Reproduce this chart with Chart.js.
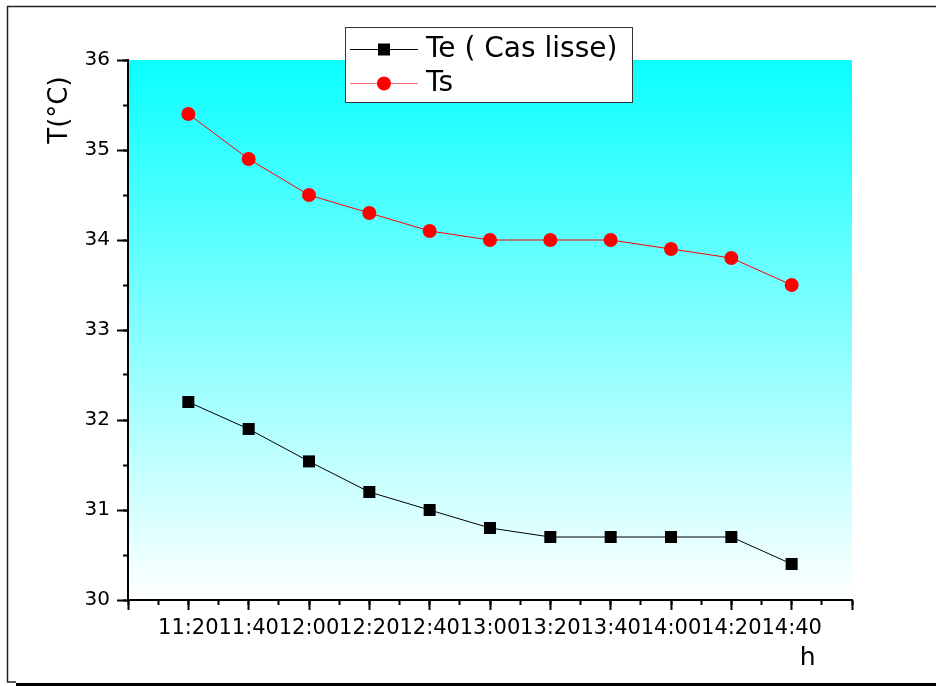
<!DOCTYPE html>
<html>
<head>
<meta charset="utf-8">
<title>T(°C) - Te / Ts</title>
<script src="https://cdn.jsdelivr.net/npm/chart.js@4.4.0/dist/chart.umd.min.js"></script>
<style>
  html, body { margin: 0; padding: 0; background: #fff; }
  #chart { display: block; }
</style>
</head>
<body>
<canvas id="chart" width="936" height="686"></canvas>
<script>
// Time of measurement (x categories)
const hours = ['11:20', '11:40', '12:00', '12:20', '12:40', '13:00', '13:20', '13:40', '14:00', '14:20', '14:40'];

// Temperatures
const te = [32.2, 31.9, 31.54, 31.2, 31.0, 30.8, 30.7, 30.7, 30.7, 30.7, 30.4];
const ts = [35.4, 34.9, 34.5, 34.3, 34.1, 34.0, 34.0, 34.0, 33.9, 33.8, 33.5];

const seriesNames = ['Te ( Cas lisse)', 'Ts'];
const yTitle = 'T(°C)';
const xTitle = 'h';

const FONT = '"DejaVu Sans", "Liberation Sans", Arial, sans-serif';

const toPoints = arr => arr.map((y, i) => ({ x: i + 1, y }));

// Frame, background and the cyan gradient of the plot area
const backdrop = {
    id: 'backdrop',
    beforeDraw(chart) {
        const { ctx, chartArea: a } = chart;
        ctx.save();
        ctx.fillStyle = '#fff';
        ctx.fillRect(0, 0, chart.width, chart.height);

        const g = ctx.createLinearGradient(0, a.top, 0, a.bottom);
        g.addColorStop(0, 'rgb(10,255,255)');
        g.addColorStop(1, 'rgb(255,255,255)');
        ctx.fillStyle = g;
        ctx.fillRect(a.left, a.top, a.right - a.left, a.bottom - a.top);

        // outer frame with a shadow at the bottom
        ctx.strokeStyle = '#222';
        ctx.lineWidth = 1.5;
        ctx.beginPath();
        ctx.moveTo(936, 6.5);
        ctx.lineTo(7.5, 6.5);
        ctx.lineTo(7.5, 682);
        ctx.lineTo(16, 682);
        ctx.stroke();
        ctx.fillStyle = '#000';
        ctx.fillRect(16, 683, 920, 3);
        ctx.restore();
    }
};

// Legend box and axis titles
const overlay = {
    id: 'overlay',
    afterDraw(chart) {
        const { ctx } = chart;
        ctx.save();

        // legend
        ctx.fillStyle = '#fff';
        ctx.fillRect(345, 27, 287, 75);
        ctx.strokeStyle = '#333';
        ctx.lineWidth = 1;
        ctx.strokeRect(345.5, 27.5, 287, 75);

        const rows = [49, 83];
        chart.data.datasets.forEach((ds, i) => {
            const y = rows[i];
            ctx.strokeStyle = ds.legendLine;
            ctx.lineWidth = 1;
            ctx.beginPath();
            ctx.moveTo(350, y + 0.5);
            ctx.lineTo(418, y + 0.5);
            ctx.stroke();
            ctx.fillStyle = ds.pointBackgroundColor;
            if (ds.pointStyle === 'rect') {
                ctx.fillRect(378, y - 5.5, 12, 12);
            } else {
                ctx.beginPath();
                ctx.arc(384, y + 0.5, 7, 0, Math.PI * 2);
                ctx.fill();
            }
            ctx.fillStyle = '#000';
            ctx.font = '28px ' + FONT;
            ctx.textAlign = 'left';
            ctx.textBaseline = 'middle';
            ctx.fillText(ds.label, 426, y + 1);
        });

        // y title (rotated)
        ctx.fillStyle = '#000';
        ctx.font = '26px ' + FONT;
        ctx.textAlign = 'center';
        ctx.textBaseline = 'middle';
        ctx.translate(60, 110);
        ctx.rotate(-Math.PI / 2);
        ctx.fillText(yTitle, 0, 0);
        ctx.setTransform(1, 0, 0, 1, 0, 0);

        // x title
        const xs = chart.scales.x;
        ctx.font = '25px ' + FONT;
        ctx.fillText(xTitle, xs.getPixelForValue(11) + 16, 658);
        ctx.restore();
    }
};

new Chart(document.getElementById('chart'), {
    type: 'line',
    data: {
        datasets: [
            {
                label: seriesNames[0],
                data: toPoints(te),
                borderColor: '#000',
                legendLine: '#000',
                borderWidth: 1,
                pointStyle: 'rect',
                pointRadius: 8.5,
                pointBackgroundColor: '#000',
                pointBorderWidth: 0,
                tension: 0
            },
            {
                label: seriesNames[1],
                data: toPoints(ts),
                borderColor: '#ff0000',
                legendLine: '#ff7070',
                borderWidth: 1,
                pointStyle: 'circle',
                pointRadius: 7,
                pointBackgroundColor: '#ff0000',
                pointBorderWidth: 0,
                tension: 0
            }
        ]
    },
    options: {
        responsive: false,
        animation: false,
        layout: { padding: { left: 0, right: 84, top: 60, bottom: 0 } },
        plugins: {
            legend: { display: false },
            tooltip: { enabled: false }
        },
        scales: {
            x: {
                type: 'linear',
                position: 'bottom',
                min: 0,
                max: 12,
                afterFit: s => { s.height = 86; },
                ticks: {
                    stepSize: 1,
                    autoSkip: false,
                    maxRotation: 0,
                    minRotation: 0,
                    padding: 6,
                    color: '#000',
                    font: { family: FONT, size: 21 },
                    callback: v => (v >= 1 && v <= hours.length ? hours[v - 1] : '')
                },
                grid: { drawOnChartArea: false, tickLength: 10, tickWidth: 2, tickColor: '#000' },
                border: { display: true, color: '#000', width: 2 }
            },
            xMinor: {
                type: 'linear',
                position: 'bottom',
                weight: -1,
                min: 0,
                max: 12,
                afterFit: s => { s.height = 0; },
                ticks: { stepSize: 0.5, display: false },
                grid: { drawOnChartArea: false, tickLength: 5, tickWidth: 2, tickColor: '#000' },
                border: { display: false }
            },
            y: {
                type: 'linear',
                position: 'left',
                min: 30,
                max: 36,
                afterFit: s => { s.width = 128; },
                ticks: {
                    stepSize: 1,
                    padding: 7,
                    color: '#000',
                    font: { family: FONT, size: 20 }
                },
                grid: { drawOnChartArea: false, tickLength: 11, tickWidth: 2, tickColor: '#000' },
                border: { display: true, color: '#000', width: 2 }
            },
            yMinor: {
                type: 'linear',
                position: 'left',
                weight: -1,
                min: 30,
                max: 36,
                afterFit: s => { s.width = 0; },
                ticks: { stepSize: 0.5, display: false },
                grid: { drawOnChartArea: false, tickLength: 5, tickWidth: 2, tickColor: '#000' },
                border: { display: false }
            }
        }
    },
    plugins: [backdrop, overlay]
});
</script>
</body>
</html>
